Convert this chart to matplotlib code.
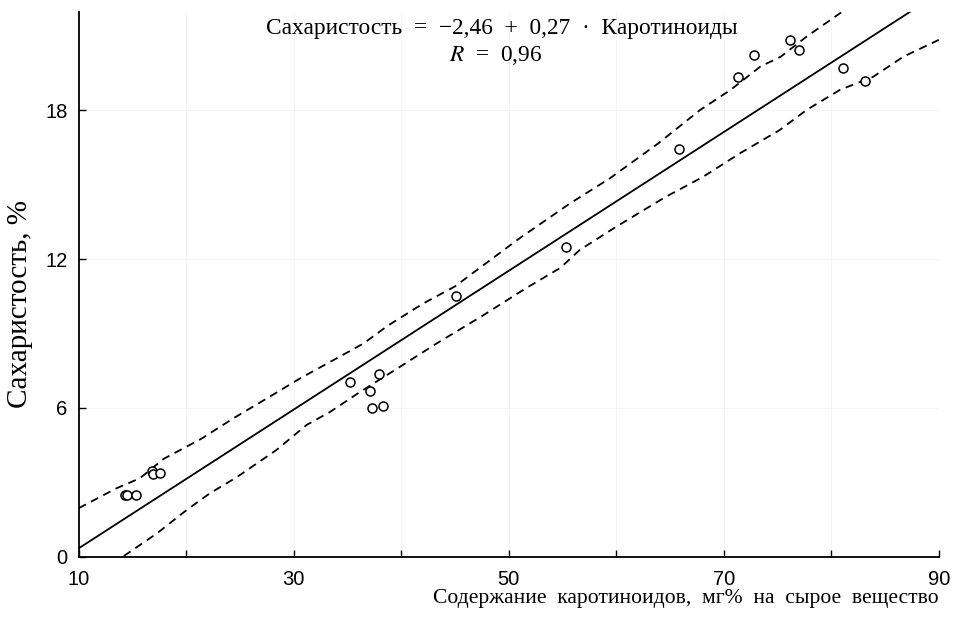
import numpy as np
import matplotlib
matplotlib.use("Agg")
import matplotlib.pyplot as plt

# scatter points
carotene = [14.3, 14.5, 15.3, 16.8, 16.95, 17.55, 35.2, 37.1, 37.3, 37.9, 38.3,
            45.1, 55.3, 65.85, 71.3, 72.85, 76.2, 77.0, 81.1, 83.1]
sugar = [2.50, 2.50, 2.50, 3.44, 3.34, 3.36, 7.03, 6.66, 5.99, 7.36, 6.07,
         10.52, 12.51, 16.43, 19.37, 20.25, 20.85, 20.46, 19.72, 19.18]

# fitted line as drawn
reg_x = [10, 90]
reg_y = [0.33, 22.73]

# dashed confidence bands
upper_x = [10, 13.5, 15.7, 17.9, 21.4, 24.4, 27.5, 30.6, 34.0, 36.5, 38.7, 42.0,
           45.0, 47.0, 51.0, 55.7, 59.4, 63.9, 67.8, 70.6, 73.4, 75.3, 77.7, 80.8, 82.5]
upper_y = [1.95, 2.75, 3.16, 3.94, 4.75, 5.58, 6.38, 7.19, 8.0, 8.6, 9.3, 10.2,
           10.9, 11.55, 12.84, 14.25, 15.26, 16.67, 18.02, 18.82, 19.77, 20.17, 20.98, 21.92, 22.4]
lower_x = [14.2, 17.3, 20.05, 22.2, 24.7, 28.4, 31.2, 33.4, 36.2, 39.9, 43.3, 47.5,
           51.5, 54.8, 56.6, 60.0, 64.5, 68.1, 71.5, 75.2, 77.7, 80.8, 83.9, 86.7, 90.0]
lower_y = [0.02, 0.94, 1.88, 2.55, 3.2, 4.3, 5.31, 5.84, 6.65, 7.66, 8.6, 9.7,
           10.8, 11.65, 12.37, 13.31, 14.49, 15.33, 16.27, 17.21, 18.02, 18.83, 19.36, 20.17, 20.85]

x_ticks = [10, 20, 30, 40, 50, 60, 70, 80, 90]
x_labels = ['10', '', '30', '', '50', '', '70', '', '90']
y_ticks = [0, 6, 12, 18]

serif = 'Liberation Serif'
sans = 'Liberation Sans'

fig = plt.figure(figsize=(9.57, 6.23), dpi=100)
ax = fig.add_axes([0.0822, 0.1067, 0.8988, 0.8735])

ax.plot(reg_x, reg_y, color='black', lw=1.3)
ax.plot(upper_x, upper_y, color='black', lw=1.3, dashes=(4.5, 3.2))
ax.plot(lower_x, lower_y, color='black', lw=1.3, dashes=(4.5, 3.2))
ax.plot(carotene, sugar, 'o', mfc='white', mec='black', ms=6.5, mew=1.1, zorder=3)

ax.set_xlim(10, 90)
ax.set_ylim(0, 21.96)
ax.set_xticks(x_ticks)
ax.set_xticklabels(x_labels, fontfamily=sans, fontsize=14.5)
ax.set_yticks(y_ticks)
ax.set_yticklabels([str(v) for v in y_ticks], fontfamily=sans, fontsize=14.5)
ax.tick_params(direction='in', length=5, width=1)
ax.tick_params(axis='x', pad=10)
ax.tick_params(axis='y', pad=8)

for s in ['top', 'right']:
    ax.spines[s].set_visible(False)
for s in ['left', 'bottom']:
    ax.spines[s].set_linewidth(1.3)

ax.set_axisbelow(True)
ax.grid(True, color='#f4f4f4', lw=0.6)

ax.text(0.492, 0.99, 'Сахаристость  =  −2,46  +  0,27  ·  Каротиноиды',
        transform=ax.transAxes, ha='center', va='top', fontfamily=serif, fontsize=16.8)
ax.text(0.485, 0.942, r'$\mathit{R}$  =  0,96', transform=ax.transAxes, ha='center',
        va='top', fontfamily=serif, fontsize=16.8, math_fontfamily='stix')

fig.text(0.021, 0.512, 'Сахаристость, %', rotation=90, ha='center', va='center',
         fontfamily=serif, fontsize=21)
fig.text(0.981, 0.040, 'Содержание  каротиноидов,  мг%  на  сырое  вещество',
         ha='right', va='center', fontfamily=serif, fontsize=15.6)

fig.savefig('out.png', dpi=100)
